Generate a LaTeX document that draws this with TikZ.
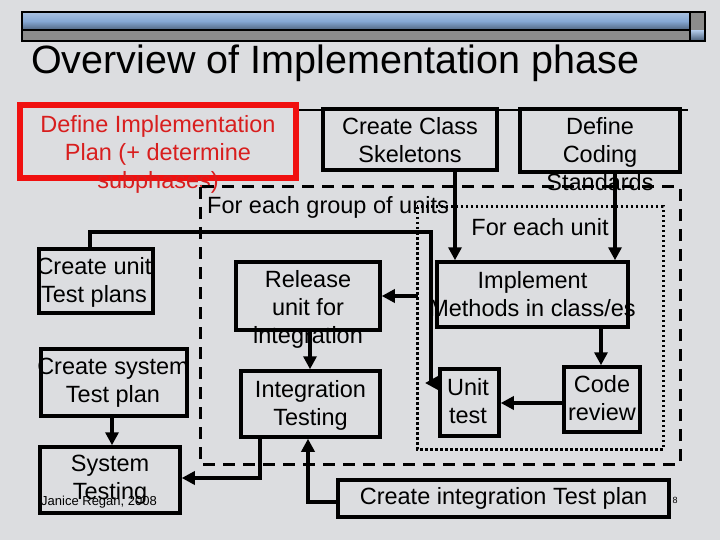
\documentclass[tikz,border=0pt]{standalone}
\usepackage{fontspec}
\setmainfont{Liberation Sans}
\usetikzlibrary{arrows.meta}
\definecolor{bg}{HTML}{DCDDE0}
\definecolor{redb}{HTML}{F01010}
\definecolor{redt}{HTML}{D81E1E}
\definecolor{barblue}{HTML}{86A8D4}
\definecolor{bargray}{HTML}{8C8C8C}
\begin{document}
\begin{tikzpicture}[x=1pt,y=-1pt,
  bx/.style={draw=black,line width=3.5pt,inner sep=0pt},
  txt/.style={font=\fontsize{23.5}{28}\selectfont,align=center,inner sep=0pt},
  arr/.style={line width=3.5pt,-{Triangle[length=13pt,width=13pt]}},
  ln/.style={line width=3.5pt}]
\fill[bg] (0,0) rectangle (720,540);
\useasboundingbox (0,0) rectangle (720,540);
% top bar
\shade[top color=barblue!70!white,bottom color=barblue!60!black,middle color=barblue] (22,12) rectangle (690,30);
\fill[bargray] (22,30) rectangle (690,41);
\fill[bargray] (690,12) rectangle (705,41);
\shade[top color=barblue!70!white,bottom color=barblue!60!black] (691,31) rectangle (704,40);
\draw[line width=1.2pt] (22,12) rectangle (705,41) (22,30)--(690,30) (690,12)--(690,41);
\node[font=\fontsize{39.5}{44}\selectfont,anchor=west,inner sep=0pt] (title) at (31,63) {Overview of Implementation phase};
% top thin line
\draw[line width=1.5pt] (296,110) -- (688,110);
% red box
\node[draw=redb,line width=6pt,minimum width=276pt,minimum height=73pt,inner sep=0pt] (plan) at (158,141.5) {};
\node[txt,text=redt] at (158,154) {Define Implementation\\Plan (+ determine\\subphases)};
% create class
\node[bx,minimum width=174pt,minimum height=61pt,fill=bg] (cls) at (410,139.5) {};
\node[txt] at (410,140) {Create Class\\Skeletons};
\node[bx,minimum width=160pt,minimum height=63pt,fill=bg] (std) at (600,140.5) {};
\node[txt] at (600,154) {Define\\Coding\\Standards};
% dashed and dotted boxes
\draw[line width=3pt,dash pattern=on 12pt off 8pt] (200,187) rectangle (680,464);
\draw[line width=3pt,dash pattern=on 2.5pt off 2.5pt] (417,207) rectangle (663,449);
\node[txt,anchor=west] (grp) at (207,207) {For each group of units};
\node[txt] (unit) at (540,227) {For each unit};
% boxes
\node[bx,minimum width=114pt,minimum height=64pt] (cutp) at (96,281) {};
\node[txt] at (94,282) {Create unit\\Test plans};
\node[bx,minimum width=144pt,minimum height=68pt] (rel) at (308,296) {};
\node[txt] at (308,309) {Release\\unit for\\integration};
\node[bx,minimum width=191pt,minimum height=65pt] (impl) at (532.5,294.5) {};
\node[txt] at (532.5,294) {Implement\\Methods in class/es};
\node[bx,minimum width=146pt,minimum height=67pt] (cstp) at (114,382.5) {};
\node[txt] at (113,383) {Create system\\Test plan};
\node[bx,minimum width=139pt,minimum height=66pt] (integ) at (310.5,404) {};
\node[txt] at (310.5,405) {Integration\\Testing};
\node[bx,minimum width=59pt,minimum height=67pt] (ut) at (469.5,402.5) {};
\node[txt] at (468,401) {Unit\\test};
\node[bx,minimum width=76pt,minimum height=65pt] (cr) at (602,399.5) {};
\node[txt] at (602,398) {Code\\review};
\node[bx,minimum width=140pt,minimum height=66pt] (syst) at (110,480) {};
\node[txt] at (110,480) {System\\Testing};
\node[bx,minimum width=331pt,minimum height=37pt] (citp) at (503.5,498.5) {};
\node[txt] at (503.5,498) {Create integration Test plan};
\node[font=\fontsize{13}{14}\selectfont,anchor=west,inner sep=0pt] (auth) at (41,502) {Janice Regan, 2008};
\node[font=\fontsize{9}{10}\selectfont,inner sep=0pt] (pg) at (675,500) {8};
% connectors
\draw[arr] (cls.south -| 455,0) -- (impl.north -| 455,0);
\draw[arr] (std.south -| 615,0) -- (impl.north -| 615,0);
\coordinate (k1) at (418,296);
\draw[arr] (k1) -- (rel.east);
\draw[arr] (impl.south -| 601,0) -- (cr.north -| 601,0);
\draw[arr] (cr.west |- 0,403) -- (ut.east |- 0,403);
\draw[ln] (cutp.north -| 90,0) -- (90,232) -- (431,232) -- (431,383);
\coordinate (k2) at (425,383);
\draw[arr] (ut.west |- 0,383) -- (k2);
\draw[arr] (rel.south -| 310,0) -- (integ.north -| 310,0);
\draw[arr] (cstp.south -| 112,0) -- (syst.north -| 112,0);
\draw[arr] (integ.south -| 260,0) -- (260,478) -- (syst.east |- 0,478);
\draw[arr] (citp.west |- 0,502) -- (308,502) -- (integ.south -| 308,0);
\end{tikzpicture}
\end{document}
